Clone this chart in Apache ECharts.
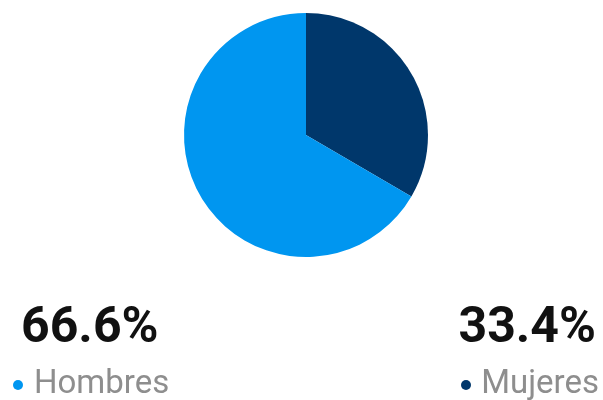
<!DOCTYPE html>
<html>
<head>
<meta charset="utf-8">
<script src="https://cdn.jsdelivr.net/npm/echarts@6/dist/echarts.min.js"></script>
<style>
html,body{margin:0;padding:0;background:#fff;}
#main{width:603px;height:400px;}
</style>
</head>
<body>
<div id="main"></div>
<script>
var categories = ['Hombres', 'Mujeres'];
var values = [66.6, 33.4];
var colors = ['#0096f0', '#00376b'];

var myChart = echarts.init(document.getElementById('main'));

// pie starts with Mujeres at 12 o'clock going clockwise
var pieData = [];
for (var i = categories.length - 1; i >= 0; i--) {
	pieData.push({name: categories[i], value: values[i], itemStyle: {color: colors[i]}});
}

function pct(v){
	return v.toFixed(1) + '%';
}

var option = {
	animation: false,
	series: [
		{
			type: 'pie',
			center: [306, 135],
			radius: [0, 122],
			startAngle: 90,
			clockwise: true,
			label: {show: false},
			labelLine: {show: false},
			itemStyle: {borderWidth: 0},
			data: pieData
		}
	],
	graphic: [
		{type: 'text', left: 21, top: 304, style: {text: pct(values[0]), font: 'bold 50px Roboto', fill: '#111'}},
		{type: 'circle', shape: {cx: 18, cy: 385, r: 5}, style: {fill: colors[0]}},
		{type: 'text', left: 34, top: 368, style: {text: categories[0], font: '33px Roboto', fill: '#8e8e8e'}},
		{type: 'text', right: 7, top: 304, style: {text: pct(values[1]), font: 'bold 50px Roboto', fill: '#111'}},
		{type: 'circle', shape: {cx: 466, cy: 385, r: 5}, style: {fill: colors[1]}},
		{type: 'text', right: 4, top: 368, style: {text: categories[1], font: '33px Roboto', fill: '#8e8e8e'}}
	]
};
myChart.setOption(option, true);
</script>
</body>
</html>
